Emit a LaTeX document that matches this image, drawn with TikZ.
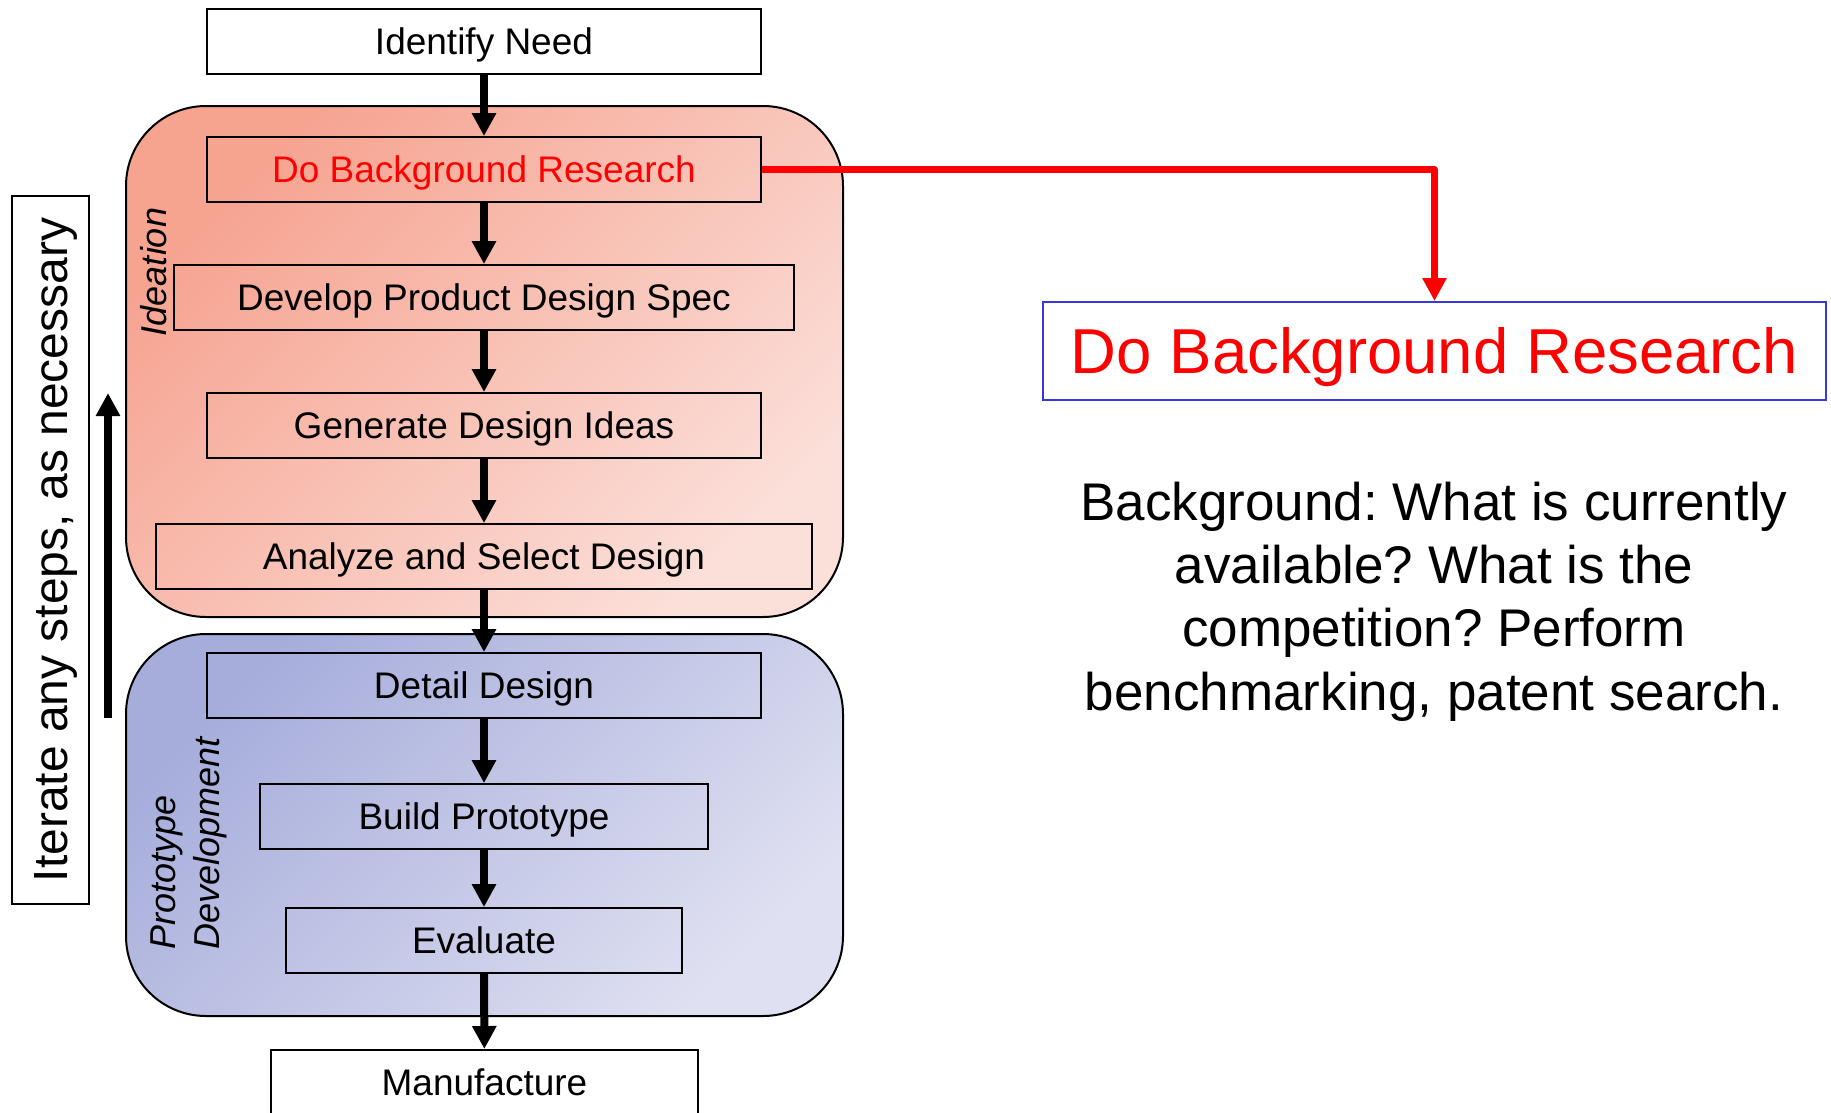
\documentclass[tikz,border=0pt]{standalone}
\usepackage{fontspec}
\setmainfont{Liberation Sans}
\usetikzlibrary{arrows.meta}
\definecolor{idA}{HTML}{F6A390}
\definecolor{idB}{HTML}{FBDFD9}
\definecolor{prA}{HTML}{A6ADDB}
\definecolor{prB}{HTML}{DFE0F1}
\definecolor{bluebd}{HTML}{3838D8}
\tikzset{
  stepbox/.style={draw=black, line width=1.8pt, inner sep=0pt, minimum height=65pt,
    font=\fontsize{37}{44}\selectfont, text height=26.5pt, text depth=0pt},
  flow/.style={line width=8pt, -{Triangle[width=23pt,length=23pt]}},
  phase/.style={draw=black, line width=2pt, rounded corners=80pt},
  phaselabel/.style={rotate=90, font=\fontsize{36}{44}\selectfont\itshape, inner sep=0pt},
}
\begin{document}
\frenchspacing
\begin{tikzpicture}[x=1pt,y=-1pt]
\useasboundingbox (0,0) rectangle (1831,1112);
\fill[white] (0,0) rectangle (1831,1112);

% phase backgrounds
\draw[phase, top color=idA, bottom color=idB, shading angle=45] (126,106) rectangle (843,617);
\draw[phase, top color=prA, bottom color=prB, shading angle=45] (126,634) rectangle (843,1016);

% steps
\node[stepbox, minimum width=554pt] (need) at (484,41.5) {Identify Need};
\node[stepbox, minimum width=554pt, text=red] (dbr) at (484,169.5) {Do Background Research};
\node[stepbox, minimum width=620pt] (dpds) at (484,297.5) {Develop Product Design Spec};
\node[stepbox, minimum width=554pt] (gdi) at (484,425.5) {Generate Design Ideas};
\node[stepbox, minimum width=656pt] (asd) at (484,556.5) {Analyze and Select Design};
\node[stepbox, minimum width=554pt] (dd) at (484,685.5) {Detail Design};
\node[stepbox, minimum width=448pt] (bp) at (484,816.5) {Build Prototype};
\node[stepbox, minimum width=396pt] (ev) at (484,940.5) {Evaluate};
\node[stepbox, minimum width=427pt, minimum height=0pt, anchor=north, text height=46pt, text depth=44pt] (man) at (484.5,1049) {Manufacture};

% phase labels
\node[phaselabel, text height=26pt, text depth=0pt] (idl) at (153,272) {Ideation};
\node[phaselabel, align=left, anchor=north west] (pdl) at (151,950) {Prototype\\Development};

% flow arrows
\draw[flow] (need) -- (dbr);
\draw[flow] (dbr) -- (dpds);
\draw[flow] (dpds) -- (gdi);
\draw[flow] (gdi) -- (asd);
\draw[flow] (asd) -- (dd);
\draw[flow] (dd) -- (bp);
\draw[flow] (bp) -- (ev);
\draw[flow] (ev) -- (man);

% iterate
\node[draw, line width=1.8pt, rotate=90, minimum width=708pt, minimum height=77pt, inner sep=0pt,
  font=\fontsize{48}{58}\selectfont, text height=34.5pt, text depth=0pt] (iter) at (50.5,550) {Iterate any steps, as necessary};
\coordinate (itb) at (108,718);
\coordinate (itt) at (108,393);
\draw[flow] (itb) -- (itt);

% right side
\node[draw=bluebd, line width=2pt, minimum width=783pt, minimum height=98pt, inner sep=0pt, text=red,
  font=\fontsize{63.5}{76}\selectfont, text height=45.5pt, text depth=0pt] (rt) at (1434.5,351) {Do Background Research};
\draw[red, line width=7pt, line join=round, -{Triangle[width=23pt,length=23pt]}] (dbr.east) -| (rt.north);

\node[align=center, anchor=north, inner sep=0pt, font=\fontsize{53}{63.4}\selectfont] (bg) at (1434,481.5)
  {Background: What is currently\\available? What is the\\competition? Perform\\benchmarking, patent search.};
\end{tikzpicture}
\end{document}
